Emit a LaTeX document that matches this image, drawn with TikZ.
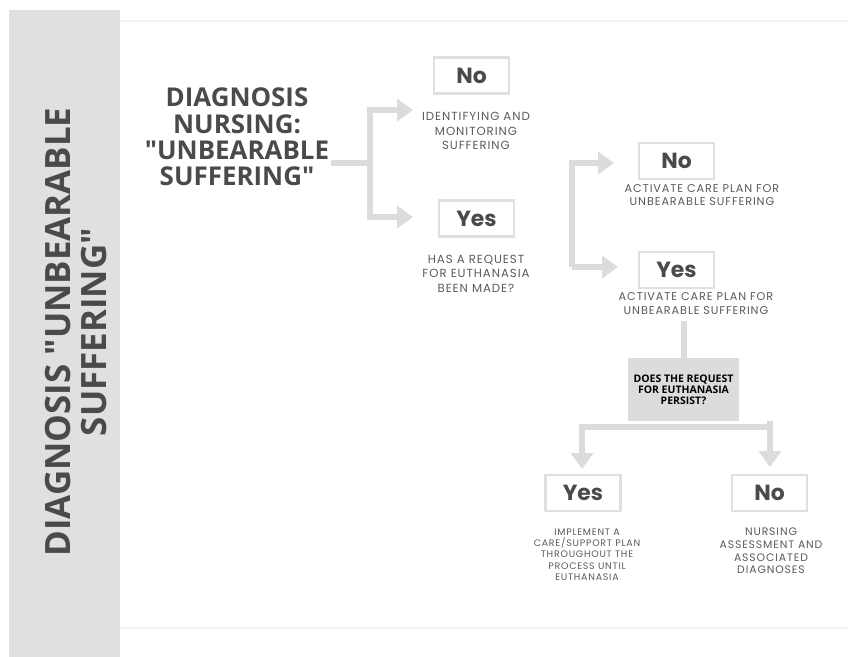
\documentclass[tikz,border=0pt]{standalone}
\usepackage{fontspec}
\setmainfont{Open Sans}[Ligatures=TeXOff]
\newfontfamily\labelfont[LetterSpace=8]{Poppins}
\newfontfamily\answerfont{Poppins}
\usetikzlibrary{arrows.meta,positioning}
\definecolor{Band}{HTML}{E0E0E0}
\definecolor{Flow}{HTML}{DCDCDC}
\definecolor{Ink}{HTML}{4A4A4A}
\definecolor{Note}{HTML}{5A5A5A}
\definecolor{Rule}{HTML}{F4F4F4}
\newcommand{\qt}{\symbol{34}}

\tikzset{
  answer/.style={draw=Band, line width=2.5bp, minimum width=75bp, minimum height=36bp,
    inner sep=0pt, text=Ink, font=\answerfont\bfseries\fontsize{22}{26}\selectfont},
  note/.style={align=center, text=Note, inner sep=0pt, font=\labelfont\fontsize{11.8}{14.5}\selectfont},
  flow/.style={draw=Flow, line width=6bp},
  flowarrow/.style={flow, -{Triangle[width=22bp,length=16bp]}},
}

\begin{document}
\begin{tikzpicture}[x=1bp,y=-1bp]
  \useasboundingbox (0,0) rectangle (848,657);
  % side band and faint rules
  \fill[Band] (9,10) rectangle (120,657);
  \draw[Rule,line width=1.5bp] (120,21) -- (848,21);
  \draw[Rule,line width=1.5bp] (120,628) -- (848,628);
  \node[rotate=90, align=center, text=Ink, inner sep=0pt,
    font=\bfseries\fontsize{35}{37}\selectfont] (title) at (76,332)
    {DIAGNOSIS \qt UNBEARABLE\\SUFFERING\qt};

  \node[align=center, text=Ink, inner sep=0pt, font=\bfseries\fontsize{26}{26.5}\selectfont]
    (head) at (237,137) {DIAGNOSIS\\NURSING:\\\qt UNBEARABLE\\SUFFERING\qt};

  % first split
  \node[answer] (no1) at (471.5,75.5) {No};
  \node[note] (noteno1) at (476,131) {IDENTIFYING AND\\MONITORING\\SUFFERING};
  \node[answer] (yes1) at (476.5,218.5) {Yes};
  \node[note] (noteyes1) at (476,273.5) {HAS A REQUEST\\FOR EUTHANASIA\\BEEN MADE?};
  \coordinate (stem1) at (331,163);
  \coordinate (fork1) at (370,163);
  \coordinate (tipno1) at (413,110);
  \coordinate (tipyes1) at (413,217);
  \draw[flow] (stem1) -- (fork1);
  \draw[flowarrow] (fork1) |- (tipno1);
  \draw[flowarrow] (fork1) |- (tipyes1);

  % second split
  \node[answer] (no2) at (676.5,161) {No};
  \node[note, font=\labelfont\fontsize{11.3}{13.5}\selectfont] (noteno2) at (702,195)
    {ACTIVATE CARE PLAN FOR\\UNBEARABLE SUFFERING};
  \node[answer] (yes2) at (676.5,270) {Yes};
  \node[note, font=\labelfont\fontsize{11.3}{13.5}\selectfont] (noteyes2) at (696,303.5)
    {ACTIVATE CARE PLAN FOR\\UNBEARABLE SUFFERING};
  \coordinate (fork2) at (572,267);
  \coordinate (tipno2) at (614,163);
  \coordinate (tipyes2) at (618,267);
  \draw[flowarrow] (fork2) |- (tipno2);
  \draw[flowarrow] (fork2) -- (tipyes2);

  % persisting request
  \node[fill=Flow, minimum width=111bp, minimum height=63bp, align=center, inner sep=0pt,
    font=\bfseries\fontsize{10.5}{11}\selectfont] (ask) at (683.5,389.5)
    {DOES THE REQUEST\\FOR EUTHANASIA\\PERSIST?};
  \draw[flow] ([yshift=-7bp]noteyes2.south -| ask.north) -- (ask.north);

  \node[answer] (yes3) at (583,493) {Yes};
  \node[note, font=\labelfont\fontsize{9.5}{11.3}\selectfont] (noteyes3) at (587,554.5)
    {IMPLEMENT A\\CARE/SUPPORT PLAN\\THROUGHOUT THE\\PROCESS UNTIL\\EUTHANASIA};
  \node[answer] (no3) at (769.5,493) {No};
  \node[note, font=\labelfont\fontsize{10.9}{12.7}\selectfont] (noteno3) at (771,551)
    {NURSING\\ASSESSMENT AND\\ASSOCIATED\\DIAGNOSES};
  \coordinate (barright) at (773,427);
  \coordinate (barleft) at (582,427);
  \coordinate (tipyes3) at (582,469);
  \coordinate (droptop) at (770,421);
  \coordinate (tipno3) at (770,467);
  \draw[flowarrow] (barright) -- (barleft) -- (tipyes3);
  \draw[flowarrow] (droptop) -- (tipno3);
\end{tikzpicture}
\end{document}
